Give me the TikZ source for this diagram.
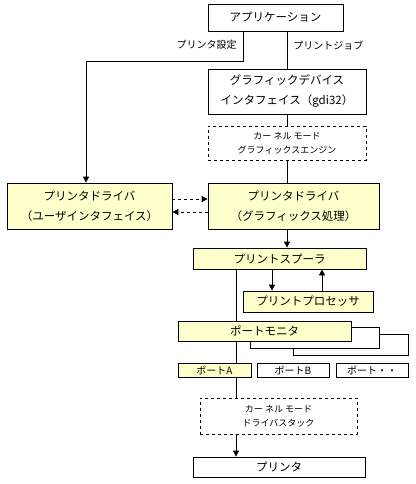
\documentclass[tikz,border=0pt]{standalone}
\usepackage{fontspec}
\setmainfont{Noto Sans CJK JP}
\usetikzlibrary{arrows.meta}
\definecolor{paleyel}{HTML}{FFFFCC}

\begin{document}
\begin{tikzpicture}[x=1pt,y=-1pt,line width=0.8pt,
    box/.style={draw,inner sep=0pt,align=center,font=\fontsize{11.5}{20}\selectfont},
    drvbox/.style={box,fill=paleyel},
    kbox/.style={box,dashed,font=\fontsize{9}{14}\selectfont},
    portbox/.style={box,font=\fontsize{10}{12}\selectfont},
    lbl/.style={inner sep=0pt,font=\fontsize{10}{12}\selectfont},
    arr/.style={-{Triangle[length=6pt,width=6pt]}}]
    \useasboundingbox (0,0) rectangle (415,484);
    \node[box,minimum width=135,minimum height=27] (app) at (275.5,17.5) {アプリケーション};
    \node[box,minimum width=158,minimum height=45] (gdi) at (287,91.5) {グラフィックデバイス\\インタフェイス（gdi32）};
    \node[kbox,minimum width=158,minimum height=34] (kgfx) at (287,143) {カー ネル モード\\グラフィックスエンジン};
    \node[drvbox,minimum width=165,minimum height=46] (drvui) at (89.5,206) {プリンタドライバ\\（ユーザインタフェイス）};
    \node[drvbox,minimum width=171,minimum height=46] (drvgfx) at (293.5,206) {プリンタドライバ\\（グラフィックス処理）};
    \node[drvbox,minimum width=173,minimum height=21] (spool) at (279.5,258.5) {プリントスプーラ};
    \node[drvbox,minimum width=130,minimum height=21] (proc) at (308,301.5) {プリントプロセッサ};
    \filldraw[fill=white] (293,334) rectangle (408,355);
    \filldraw[fill=white] (250,327) rectangle (379,348);
    \node[drvbox,minimum width=173,minimum height=20] (pmon) at (264.5,331) {ポートモニタ};
    \node[portbox,fill=paleyel,minimum width=73,minimum height=14] (porta) at (214.5,370) {ポートA};
    \node[portbox,minimum width=72,minimum height=14] (portb) at (293,370) {ポートB};
    \node[portbox,minimum width=72,minimum height=14] (portx) at (372,370) {ポート・・};
    \node[kbox,minimum width=157,minimum height=36] (kdrv) at (278.5,416) {カー ネル モード\\ドライバスタック};
    \node[box,minimum width=172,minimum height=20] (prn) at (279,467) {プリンタ};
    \node[lbl,anchor=east] (setlbl) at (237,45) {プリンタ設定};
    \node[lbl,anchor=west] (joblbl) at (293,45) {プリントジョブ};
    \coordinate (setx) at (243,61);
    \coordinate (bus) at (236,0);
    \draw[arr] (setx |- app.south) -- (setx) -| ([xshift=-3.5pt]drvui.north);
    \draw (gdi.north |- app.south) -- (gdi.north);
    \draw (gdi.south) -- (kgfx.north);
    \draw (kgfx.south) -- (kgfx.south |- drvgfx.north);
    \draw[arr,dashed] ([yshift=7pt]drvui.east) -- ([yshift=7pt]drvgfx.west);
    \draw[arr,dashed] ([yshift=-6pt]drvgfx.west) -- ([yshift=-6pt]drvui.east);
    \draw[arr] (kgfx.south |- drvgfx.south) -- (kgfx.south |- spool.north);
    \draw[arr] (spool.south -| 272,0) -- (proc.north -| 272,0);
    \draw[arr] (proc.north -| 322,0) -- (spool.south -| 322,0);
    \draw (spool.south -| bus) -- (pmon.north -| bus);
    \draw (pmon.south -| bus) -- (porta.north -| bus);
    \draw (porta.south -| bus) -- (kdrv.north -| bus);
    \draw[arr] (kdrv.south -| bus) -- (prn.north -| bus);
\end{tikzpicture}
\end{document}
